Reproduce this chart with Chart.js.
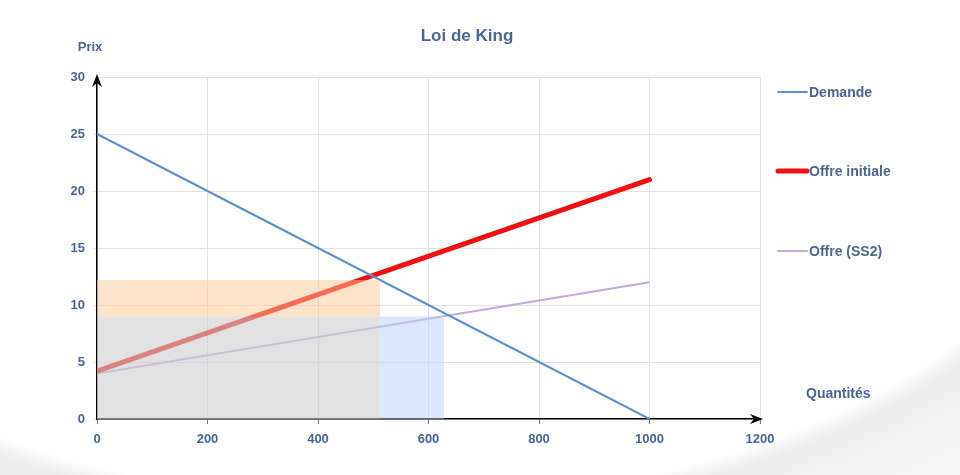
<!DOCTYPE html>
<html>
<head>
<meta charset="utf-8">
<script src="https://cdn.jsdelivr.net/npm/chart.js@4.4.1/dist/chart.umd.min.js"></script>
<style>
  html, body { margin: 0; padding: 0; background: #fff; }
  #wrap {
    width: 960px; height: 475px; position: relative;
    background: radial-gradient(ellipse 750px 440px at 390px 80px, #fff 0%, #fff 96%, #ededed 100%, #f8f8f8 115%, #fcfcfc 140%);
  }
</style>
</head>
<body>
<div id="wrap"><canvas id="canvas_king" width="960" height="475"></canvas></div>
<script>
// valeurs
var quantites = [0, 1000];
var demande = [25, 0];
var offreInitiale = [4.2, 21];
var offreSS2 = [4, 12];

// equilibres (zones colorees)
var qEquilibre1 = 512, pEquilibre1 = 12.2;
var qEquilibre2 = 628, pEquilibre2 = 9;

var xTicks = [0, 200, 400, 600, 800, 1000, 1200];
var yTicks = [0, 5, 10, 15, 20, 25, 30];

var textColor = '#4b6590';
var fontFamily = '"Liberation Sans", Arial, sans-serif';

function pts(xs, ys) {
    return xs.map(function (x, i) { return {x: x, y: ys[i]}; });
}

var legendItems = [
    {label: 'Demande', color: '#5b8fd0', width: 2},
    {label: 'Offre initiale', color: '#ee1111', width: 5},
    {label: 'Offre (SS2)', color: '#c6a9d9', width: 2}
];

// legende, titres d'axes, fleches
var decorPlugin = {
    id: 'decor',
    afterDraw: function (chart) {
        var ctx = chart.ctx;
        var area = chart.chartArea;
        ctx.save();
        ctx.fillStyle = textColor;
        ctx.textBaseline = 'middle';

        ctx.font = 'bold 17px ' + fontFamily;
        ctx.textAlign = 'center';
        ctx.fillText('Loi de King', 467, 36);

        ctx.font = 'bold 13px ' + fontFamily;
        ctx.fillText('Prix', 90, 47);
        ctx.font = 'bold 14px ' + fontFamily;
        ctx.textAlign = 'left';
        ctx.fillText('Quantités', 806, 394);

        // fleches
        ctx.fillStyle = '#000';
        ctx.beginPath();
        ctx.moveTo(area.left, area.top - 3);
        ctx.lineTo(area.left - 5, area.top + 10);
        ctx.lineTo(area.left, area.top + 6);
        ctx.lineTo(area.left + 5, area.top + 10);
        ctx.closePath();
        ctx.fill();
        ctx.beginPath();
        ctx.moveTo(area.right + 3, area.bottom);
        ctx.lineTo(area.right - 10, area.bottom - 5);
        ctx.lineTo(area.right - 6, area.bottom);
        ctx.lineTo(area.right - 10, area.bottom + 5);
        ctx.closePath();
        ctx.fill();

        // legende
        var ys = [92, 171, 251];
        ctx.font = 'bold 14px ' + fontFamily;
        legendItems.forEach(function (it, i) {
            ctx.strokeStyle = it.color;
            ctx.lineWidth = it.width;
            ctx.lineCap = 'round';
            ctx.beginPath();
            ctx.moveTo(778, ys[i]);
            ctx.lineTo(807, ys[i]);
            ctx.stroke();
            ctx.fillStyle = textColor;
            ctx.fillText(it.label, 809, ys[i] + 1);
        });
        ctx.restore();
    }
};

var tickFont = {family: fontFamily, size: 13, weight: 'bold'};

var ctx = document.getElementById('canvas_king');
var chart = new Chart(ctx, {
    type: 'line',
    data: {
        datasets: [
            {
                label: 'zone1',
                data: pts([0, qEquilibre1], [pEquilibre1, pEquilibre1]),
                borderWidth: 0,
                pointRadius: 0,
                backgroundColor: 'rgba(250,200,150,0.5)',
                fill: {value: pEquilibre2}
            }, {
                label: 'zone2',
                data: pts([0, qEquilibre1], [pEquilibre2, pEquilibre2]),
                borderWidth: 0,
                pointRadius: 0,
                backgroundColor: 'rgba(205,205,205,0.6)',
                fill: 'origin'
            }, {
                label: 'zone3',
                data: pts([qEquilibre1, qEquilibre2], [pEquilibre2, pEquilibre2]),
                borderWidth: 0,
                pointRadius: 0,
                backgroundColor: 'rgba(185,210,245,0.5)',
                fill: 'origin'
            }, {
                label: 'Demande',
                data: pts(quantites, demande),
                borderColor: '#5b8fd0',
                borderWidth: 2,
                pointRadius: 0,
                fill: false
            }, {
                label: 'Offre initiale',
                data: pts(quantites, offreInitiale),
                borderColor: '#ee1111',
                borderWidth: 5,
                borderCapStyle: 'round',
                pointRadius: 0,
                fill: false
            }, {
                label: 'Offre (SS2)',
                data: pts(quantites, offreSS2),
                borderColor: '#c6a9d9',
                borderWidth: 2,
                pointRadius: 0,
                fill: false
            }
        ]
    },
    options: {
        responsive: false,
        animation: false,
        layout: {padding: {left: 60, right: 200, top: 77, bottom: 0}},
        plugins: {
            legend: {display: false},
            tooltip: {enabled: false},
            title: {display: false}
        },
        scales: {
            x: {
                type: 'linear',
                min: 0,
                max: 1200,
                afterBuildTicks: function (s) { s.ticks = xTicks.map(function (v) { return {value: v}; }); },
                afterFit: function (s) { s.height = 56; },
                grid: {color: '#e2e2e2', tickLength: 5, tickColor: '#777'},
                border: {color: '#000', width: 1.5},
                ticks: {
                    color: textColor, padding: 8, maxRotation: 0, font: tickFont,
                    callback: function (v) { return String(v); }
                }
            },
            y: {
                min: 0,
                max: 30,
                afterBuildTicks: function (s) { s.ticks = yTicks.map(function (v) { return {value: v}; }); },
                afterFit: function (s) { s.width = 37; },
                grid: {color: '#e2e2e2', tickLength: 4, tickColor: '#e2e2e2'},
                border: {color: '#000', width: 1.5},
                ticks: {color: textColor, padding: 8, font: tickFont}
            }
        }
    },
    plugins: [decorPlugin]
});
</script>
</body>
</html>
